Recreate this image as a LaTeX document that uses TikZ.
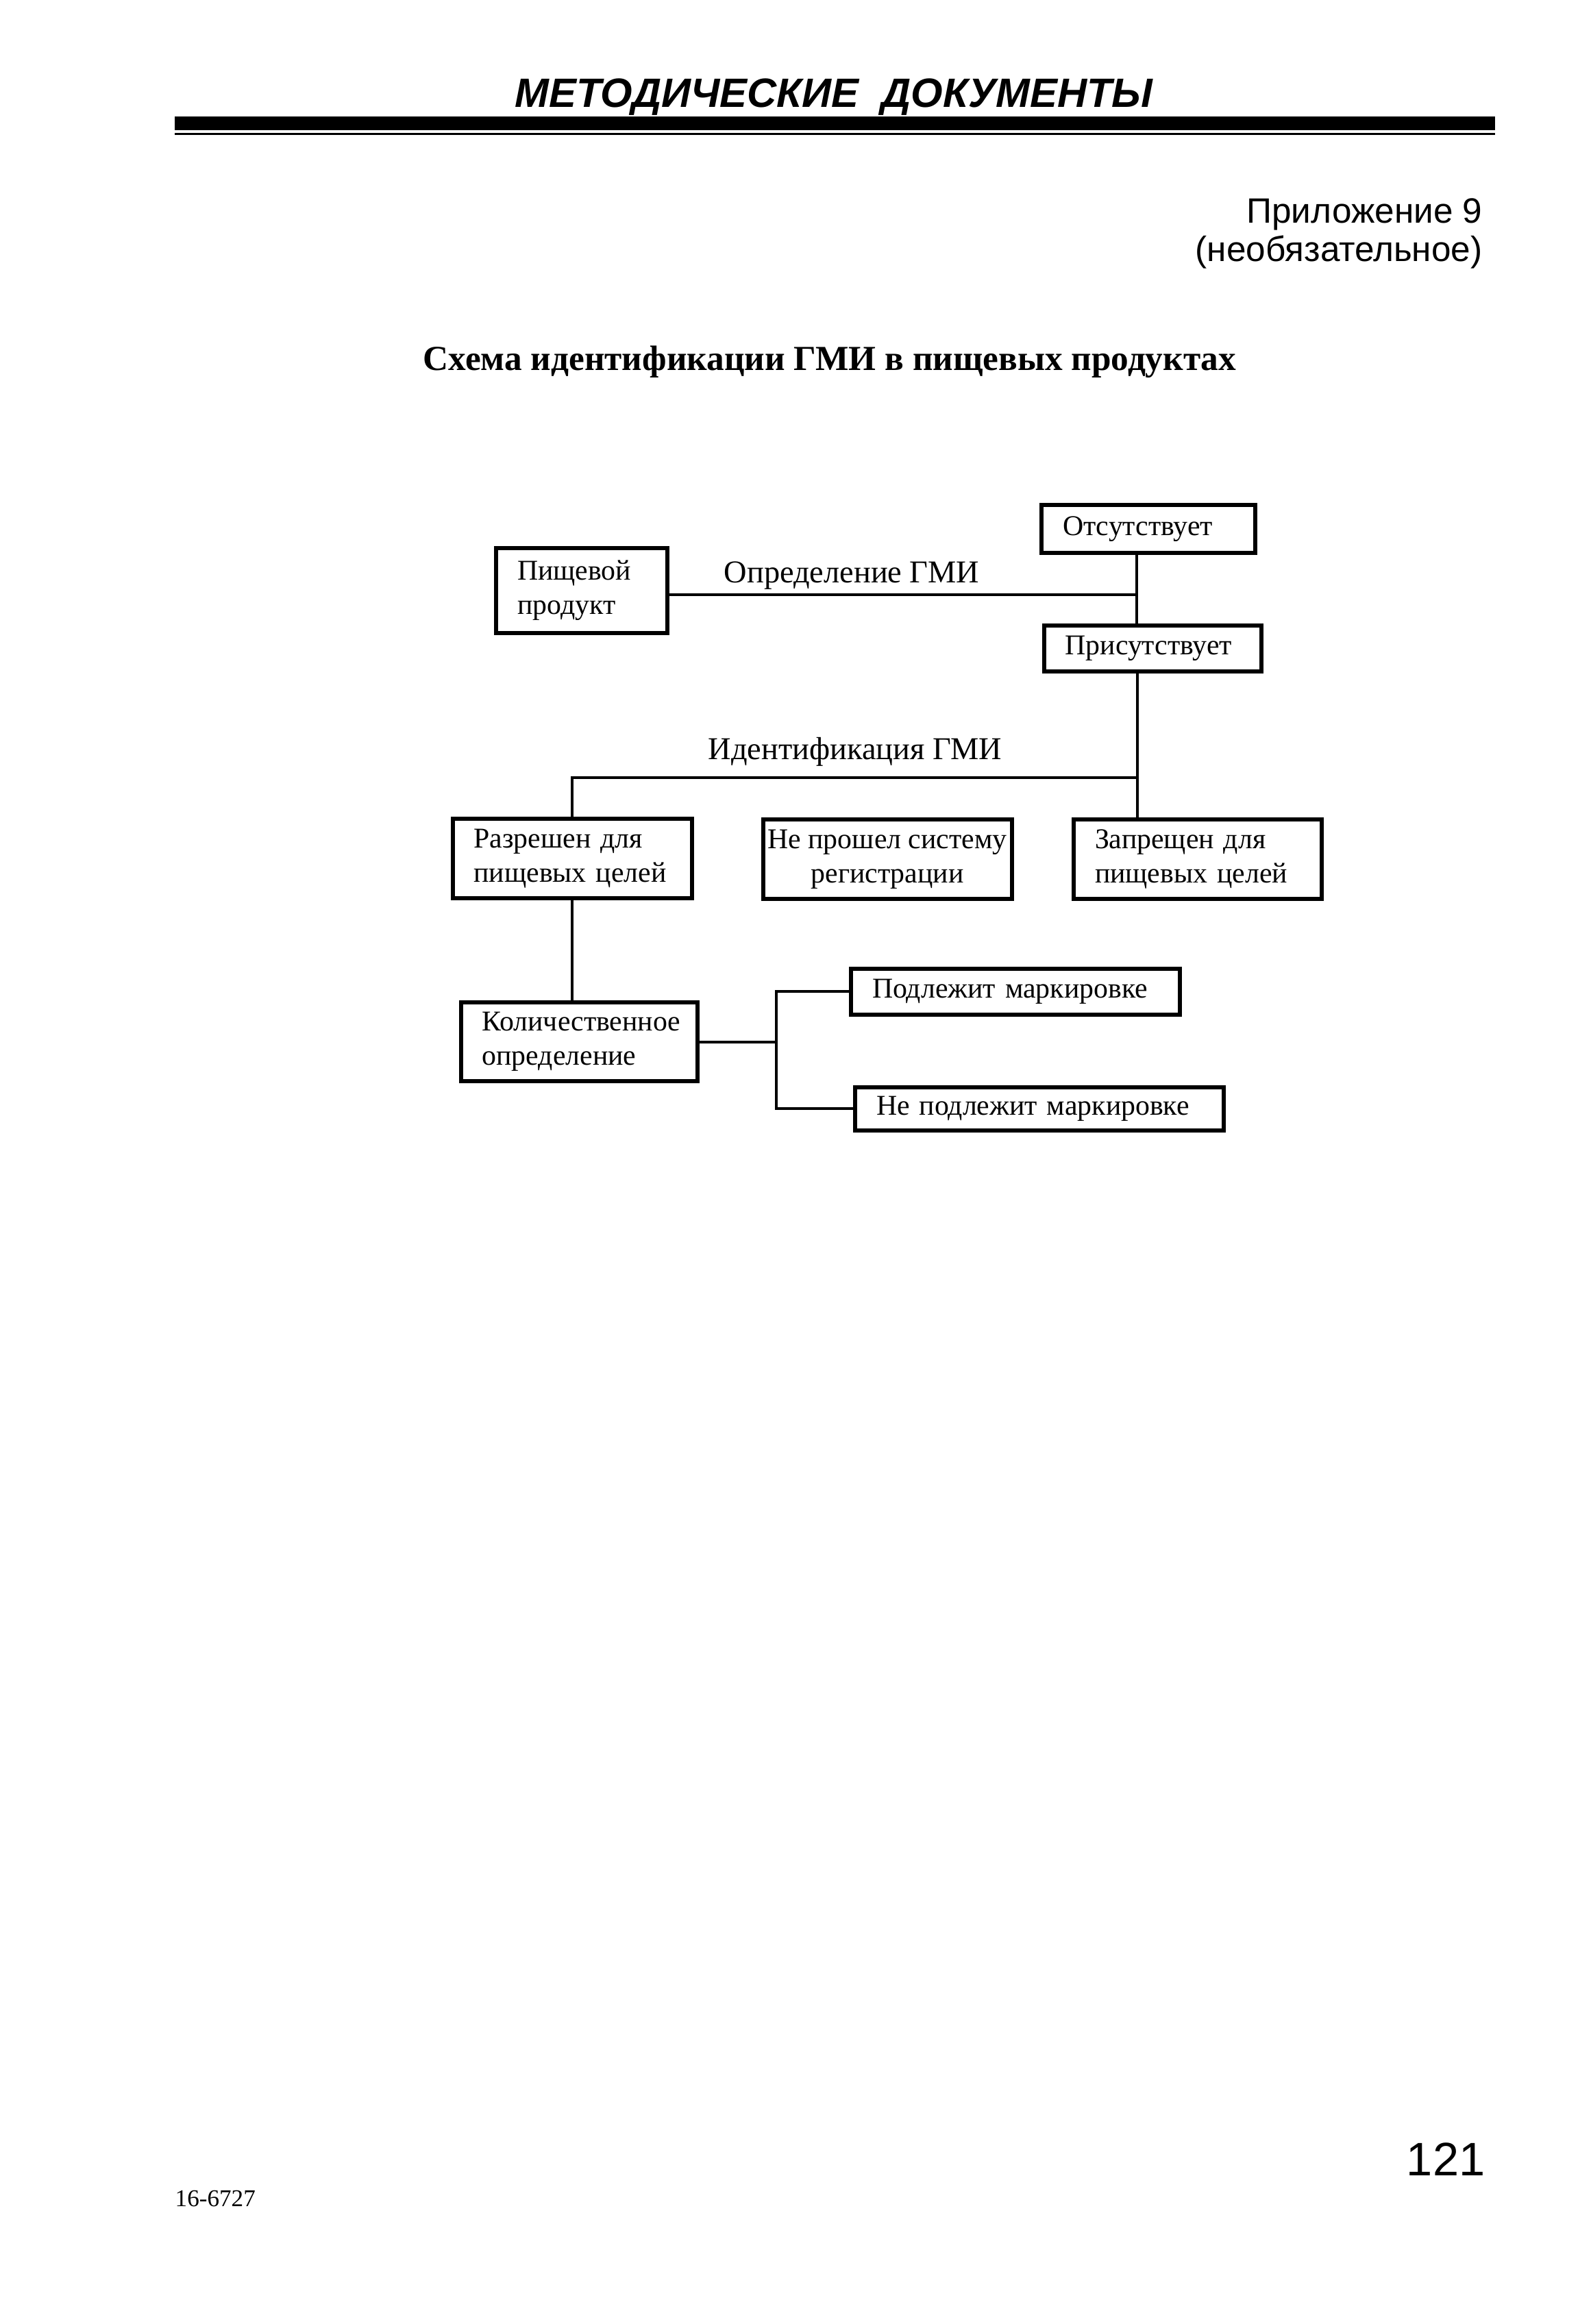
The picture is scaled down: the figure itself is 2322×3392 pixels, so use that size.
\documentclass[tikz,border=0pt]{standalone}
\usepackage{fontspec}
\setmainfont{Liberation Serif}
\setsansfont{Liberation Sans}
\usetikzlibrary{positioning, calc}

\begin{document}
\begin{tikzpicture}[x=0.1mm, y=-0.1mm,
	every node/.style={inner sep=0pt},
	gmibox/.style={rectangle, draw, line width=.6mm, inner xsep=3.1mm, inner ysep=0pt, align=left, font=\fontsize{11.9}{14.2}\selectfont},
	lbl/.style={anchor=base west, font=\fontsize{13.2}{15}\selectfont},
	conn/.style={line width=.45mm}
	]
	\useasboundingbox (0,0) rectangle (2322,3392);
	
	\fill (255,170) rectangle (2182,190);
	\fill (255,194) rectangle (2182,197);
	\node[anchor=base, font=\sffamily\bfseries\itshape\fontsize{17}{20}\selectfont] (head) at (1217,157) {МЕТОДИЧЕСКИЕ\ \ ДОКУМЕНТЫ};
	\node[anchor=base east, font=\sffamily\fontsize{14.6}{17}\selectfont] (app) at (2164,326) {Приложение 9};
	\node[anchor=base east, font=\sffamily\fontsize{14.6}{17}\selectfont] (app-note) at (2164,381) {(необязательное)};
	\node[anchor=base, font=\bfseries\fontsize{14.6}{17}\selectfont] (title) at (1211,540) {Схема идентификации ГМИ в пищевых продуктах};
	
	\node[gmibox, text width=18.8mm, minimum height=12.4mm] (food) at (849,862) {Пищевой\\ продукт};
	\node[gmibox, text width=25mm, minimum height=7mm] (absent) at (1676,772) {Отсутствует};
	\node[gmibox, text width=25.5mm, minimum height=6.7mm] (present) at (1682,946) {Присутствует};
	\node[gmibox, text width=28.7mm, minimum height=11.6mm] (allowed) at (835,1253) {Разрешен для\\ пищевых целей};
	\node[gmibox, align=center, inner xsep=0pt, minimum width=36.3mm, minimum height=11.6mm] (unreg) at (1295,1254) {Не прошел систему\\ регистрации};
	\node[gmibox, text width=30mm, minimum height=11.6mm] (banned) at (1748,1254) {Запрещен для\\ пищевых целей};
	\node[gmibox, text width=28.3mm, minimum height=11.5mm] (quant) at (845,1520) {Количественное\\ определение};
	\node[gmibox, text width=41.8mm, minimum height=6.7mm] (mark) at (1482,1447) {Подлежит маркировке};
	\node[gmibox, text width=47.6mm, minimum height=6.3mm] (no-mark) at (1517,1618) {Не подлежит маркировке};
	
	\node[lbl] (def-lbl) at (1056,850) {Определение ГМИ};
	\node[lbl] (id-lbl) at (1033,1108) {Идентификация ГМИ};
	
	\coordinate (j-def) at (1659,868);
	\coordinate (j-id) at (1660,1135);
	\coordinate (j-q) at (1133,1521);
	\draw[conn] (food.east |- j-def) -- (j-def);
	\draw[conn] (absent.south -| j-def) -- (present.north -| j-def);
	\draw[conn] (present.south -| j-id) -- (banned.north -| j-id);
	\draw[conn] (j-id) -| (allowed.north);
	\draw[conn] (allowed.south) -- (allowed.south |- quant.north);
	\draw[conn] (quant.east |- j-q) -- (j-q);
	\draw[conn] (mark.west) -| (j-q) |- (no-mark.west);
	
	\node[anchor=base east, font=\sffamily\fontsize{19.5}{21}\selectfont] (page-no) at (2168,3175) {121};
	\node[anchor=base west, font=\fontsize{10}{12}\selectfont] (code) at (255,3220) {16-6727};
\end{tikzpicture}
\end{document}
